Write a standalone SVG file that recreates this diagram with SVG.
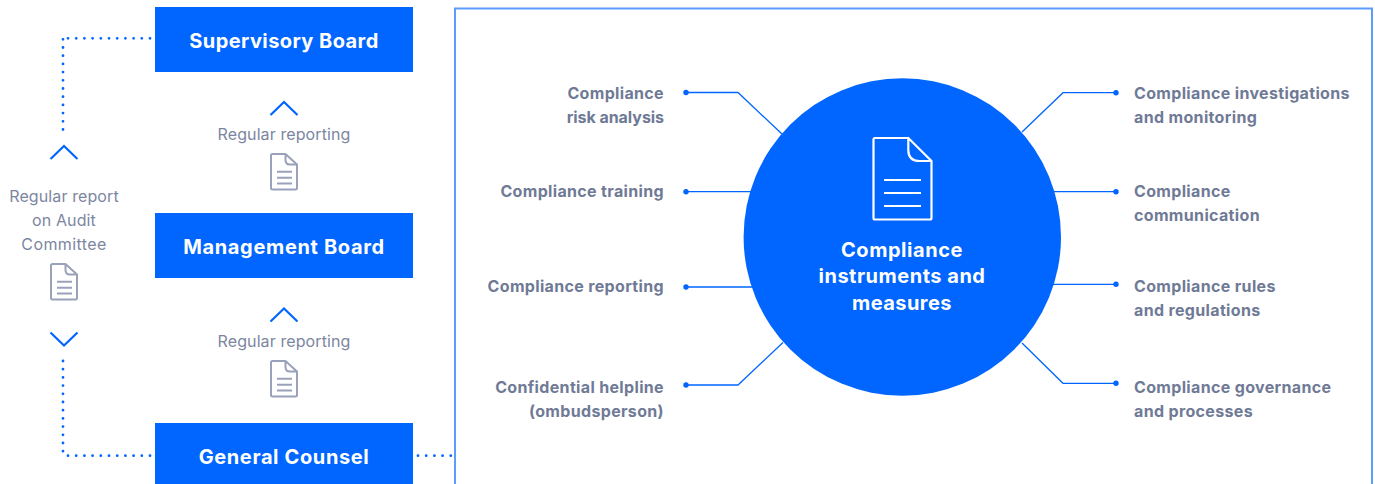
<svg xmlns="http://www.w3.org/2000/svg" width="1375" height="484" viewBox="0 0 1375 484">
<style>
text{font-family:Inter,"Noto Sans","Liberation Sans",sans-serif}
.box{fill:#0066ff}
.t{font-size:20px;font-weight:700;fill:#fff;text-anchor:middle;letter-spacing:.42px}
.r{font-size:16px;font-weight:400;fill:#7c86a0;text-anchor:middle;letter-spacing:.1px}
.l{font-size:16px;font-weight:700;fill:#6f7a96;letter-spacing:.34px}
.e{text-anchor:end}
.c{fill:none;stroke:#0066ff;stroke-width:1.3}
.d{fill:#0066ff}
.dot{fill:none;stroke:#0066ff;stroke-width:2.8;stroke-linecap:round;stroke-dasharray:0 8.2}
.ch{fill:none;stroke:#0066ff;stroke-width:2.2}
.doc{fill:none;stroke:#9aa1ba;stroke-width:2;stroke-linejoin:round}
.wdoc{fill:none;stroke:#fff;stroke-width:2.2;stroke-linejoin:round}
</style>
<defs>
<g id="smalldoc">
<path class="doc" d="M285 154H272.500Q271 154 271 155.500V188Q271 189.500 272.500 189.500H295.500Q297 189.500 297 188V164.500L285.500 154V160Q285.500 164.500 290 164.500H297"/>
<path class="doc" d="M277 171.700H292M277 177.700H292M277 183.500H292"/>
</g>
</defs>
<rect id="frame" x="455" y="8.500" width="917" height="490" fill="none" stroke="#5e9bff" stroke-width="2"/>
<g id="connectors">
<path class="dot" d="M150 38.300H63"/>
<path class="dot" d="M63 129.500V38.300"/>
<path class="dot" d="M150 455.700H63"/>
<path class="dot" d="M63 361V455.700"/>
<path class="dot" d="M418 455.700H451"/>
<path class="c" d="M686 92.500H738L782 134"/>
<path class="c" d="M686 191.700H752"/>
<path class="c" d="M686 287H754"/>
<path class="c" d="M686 385H738L783 342.500"/>
<path class="c" d="M1116 92.700H1063L1022 132"/>
<path class="c" d="M1116 191.700H1052"/>
<path class="c" d="M1116 284.300H1052"/>
<path class="c" d="M1116 383.300H1063L1022 343"/>
<circle class="d" cx="686" cy="92.500" r="2.700"/>
<circle class="d" cx="686" cy="191.700" r="2.700"/>
<circle class="d" cx="686" cy="287" r="2.700"/>
<circle class="d" cx="686" cy="385" r="2.700"/>
<circle class="d" cx="1116" cy="92.700" r="2.700"/>
<circle class="d" cx="1116" cy="191.700" r="2.700"/>
<circle class="d" cx="1116" cy="284.300" r="2.700"/>
<circle class="d" cx="1116" cy="383.300" r="2.700"/>
<path class="ch" d="M270.500 115L284 102L297.500 115"/>
<path class="ch" d="M270.500 321.500L284 308.500L297.500 321.500"/>
<path class="ch" d="M50.500 159L64 146L77.500 159"/>
<path class="ch" d="M50.500 332.500L64 345.500L77.500 332.500"/>
</g>
<g id="supervisory-board"><rect class="box" x="155" y="7" width="258" height="65"/><text class="t" x="284" y="48">Supervisory Board</text></g>
<g id="management-board"><rect class="box" x="155" y="213" width="258" height="65"/><text class="t" x="284" y="254" style="letter-spacing:.66px">Management Board</text></g>
<g id="general-counsel"><rect class="box" x="155" y="423" width="258" height="61"/><text class="t" x="284" y="464" style="letter-spacing:.62px">General Counsel</text></g>
<g id="reporting-upper"><text class="r" x="284" y="140">Regular reporting</text><use href="#smalldoc"/></g>
<g id="reporting-lower"><text class="r" x="284" y="347">Regular reporting</text><use href="#smalldoc" y="207"/></g>
<g id="audit-report"><text class="r" x="64" y="202">Regular report</text><text class="r" x="64" y="226">on Audit</text><text class="r" x="64" y="250" style="letter-spacing:.4px">Committee</text><use href="#smalldoc" x="-220" y="110"/></g>
<g id="center">
<circle class="d" cx="902.300" cy="237" r="158.700"/>
<path class="wdoc" d="M908.300 138H875Q873.500 138 873.500 139.500V218Q873.500 219.500 875 219.500H930Q931.500 219.500 931.500 218V161L908.300 138V150Q908.300 161 919.300 161H931.500"/>
<path class="wdoc" d="M884 180H921M884 193H921M884 206H921"/>
<text class="t" x="902" y="257" style="letter-spacing:.55px">Compliance</text>
<text class="t" x="902" y="283" style="letter-spacing:.5px">instruments and</text>
<text class="t" x="902" y="310">measures</text>
</g>
<g id="item-risk"><text class="l e" x="664" y="99">Compliance</text><text class="l e" x="664" y="123" style="letter-spacing:-.05px">risk analysis</text></g>
<g id="item-training"><text class="l e" x="664" y="197">Compliance training</text></g>
<g id="item-reporting"><text class="l e" x="664" y="292">Compliance reporting</text></g>
<g id="item-helpline"><text class="l e" x="664" y="393">Confidential helpline</text><text class="l e" x="664" y="417">(ombudsperson)</text></g>
<g id="item-investigations"><text class="l" x="1134" y="99">Compliance investigations</text><text class="l" x="1134" y="123">and monitoring</text></g>
<g id="item-communication"><text class="l" x="1134" y="197">Compliance</text><text class="l" x="1134" y="221">communication</text></g>
<g id="item-rules"><text class="l" x="1134" y="292">Compliance rules</text><text class="l" x="1134" y="316">and regulations</text></g>
<g id="item-governance"><text class="l" x="1134" y="393">Compliance governance</text><text class="l" x="1134" y="417">and processes</text></g>
</svg>
